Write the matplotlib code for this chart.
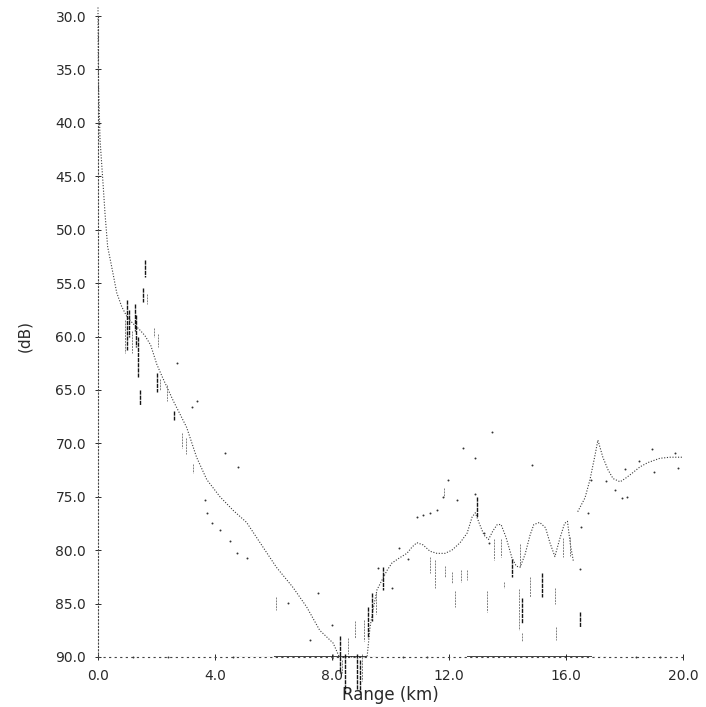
import matplotlib
matplotlib.use('Agg')
import matplotlib.pyplot as plt
from matplotlib.ticker import FormatStrFormatter

# smooth propagation-loss trace (range km, loss dB)
model_range = [0.00, 0.01, 0.02, 0.07, 0.17, 0.24, 0.33, 0.47, 0.64, 0.81,
               1.00, 1.20, 1.40, 1.60, 1.80, 2.01, 2.20, 2.57, 3.03, 3.37,
               3.72, 4.17, 4.63, 5.08, 5.54, 6.10, 6.67, 7.13, 7.58, 8.04,
               8.25, 9.20, 9.30, 9.40, 9.54, 9.71, 9.88, 10.05, 10.32, 10.56,
               10.74, 10.90, 11.11, 11.35, 11.59, 11.86, 12.10, 12.38, 12.62, 12.79,
               12.90, 13.05, 13.20, 13.35, 13.50, 13.65, 13.78, 13.95, 14.15, 14.30,
               14.43, 14.60, 14.77, 14.90, 15.10, 15.30, 15.45, 15.62, 15.78, 15.95,
               16.05, 16.15, 16.25]
model_loss = [29.2, 34.0, 36.6, 41.6, 45.6, 48.5, 51.6, 53.5, 55.9, 57.2,
              58.2, 58.8, 59.3, 59.9, 60.8, 62.6, 63.8, 66.0, 68.5, 71.3,
              73.4, 75.0, 76.3, 77.4, 79.3, 81.6, 83.5, 85.3, 87.5, 88.7,
              90.0, 90.0, 87.2, 85.6, 83.7, 82.8, 81.9, 81.2, 80.7, 80.3,
              79.7, 79.3, 79.5, 80.1, 80.3, 80.3, 80.0, 79.3, 78.4, 76.9,
              76.5, 77.6, 78.6, 79.0, 78.2, 77.6, 77.6, 78.8, 80.7, 81.5,
              81.6, 80.4, 78.6, 77.6, 77.4, 77.9, 79.3, 80.6, 79.0, 77.5,
              77.3, 79.5, 81.0]

tail_range = [16.40, 16.65, 16.82, 17.00, 17.09, 17.26, 17.44, 17.61, 17.85, 18.02,
              18.26, 18.53, 18.80, 19.21, 19.56, 19.97]
tail_loss = [76.4, 75.1, 73.4, 71.0, 69.7, 71.3, 72.5, 73.3, 73.6, 73.3,
             72.8, 72.2, 71.8, 71.4, 71.3, 71.3]

# fading spikes (range, upper and lower loss)
dark_range = [0.99, 1.05, 1.26, 1.30, 1.37, 1.44, 1.60, 1.55, 2.00, 2.60,
              8.27, 8.44, 8.85, 8.96, 9.23, 9.37, 9.74, 12.96, 14.15, 14.50,
              15.18, 16.48]
dark_top = [56.6, 57.5, 57.0, 58.0, 60.0, 65.0, 52.8, 55.5, 63.4, 67.0,
            88.0, 89.7, 89.7, 90.3, 85.3, 84.0, 81.6, 75.0, 80.8, 84.5,
            82.1, 85.8]
dark_bottom = [61.3, 60.0, 59.5, 61.0, 63.8, 66.4, 54.4, 56.8, 65.2, 67.8,
               91.5, 93.4, 93.1, 93.4, 88.2, 86.6, 83.7, 76.9, 82.5, 86.8,
               84.4, 87.2]

light_range = [0.92, 1.15, 1.68, 1.90, 2.05, 2.12, 2.35, 2.87, 3.00, 3.25,
               6.10, 8.04, 8.34, 8.55, 8.79, 9.03, 9.10, 9.50, 11.35, 11.52,
               11.83, 11.86, 12.10, 12.20, 12.40, 12.62, 13.30, 13.54, 13.78, 13.88,
               14.40, 14.43, 14.50, 14.77, 15.62, 15.66, 15.90, 16.14]
light_top = [58.5, 59.5, 56.0, 59.2, 59.8, 64.0, 64.5, 69.0, 69.5, 71.9,
             84.4, 89.7, 90.3, 88.2, 86.6, 89.7, 86.5, 84.0, 80.6, 80.9,
             74.2, 81.5, 82.0, 83.8, 81.9, 81.9, 83.8, 79.0, 79.0, 83.0,
             83.6, 79.4, 87.8, 82.5, 83.5, 87.2, 78.9, 78.8]
light_bottom = [61.5, 61.5, 57.0, 60.0, 61.0, 65.0, 66.0, 70.4, 71.0, 72.8,
                85.6, 90.3, 91.5, 89.7, 88.2, 92.2, 88.5, 86.0, 82.1, 83.5,
                75.0, 82.5, 83.1, 85.3, 83.0, 82.8, 85.8, 80.9, 80.6, 83.5,
                87.5, 81.6, 88.5, 84.4, 85.0, 88.4, 80.6, 80.5]

# isolated samples
dot_range = [2.70, 3.37, 3.20, 4.34, 4.79, 3.66, 3.72, 3.90, 4.17, 4.51,
             4.75, 5.08, 6.50, 7.52, 7.25, 8.00, 9.57, 10.05, 10.30, 10.60,
             10.90, 11.10, 11.35, 11.60, 11.80, 12.27, 12.90, 12.48, 13.47, 12.89,
             11.97, 14.84, 13.20, 13.37, 16.51, 16.75, 16.85, 16.48, 17.37, 17.68,
             17.91, 18.09, 18.02, 18.50, 18.94, 19.00, 19.73, 19.83, 10.43, 11.25,
             18.40, 19.20, 2.40, 1.20, 4.60]
dot_loss = [62.5, 66.0, 66.6, 70.9, 72.2, 75.3, 76.5, 77.5, 78.1, 79.1,
            80.3, 80.7, 84.9, 84.0, 88.4, 87.0, 81.7, 83.5, 79.8, 80.8,
            76.9, 76.7, 76.5, 76.2, 75.0, 75.3, 74.7, 70.4, 68.9, 71.4,
            73.4, 72.0, 78.4, 79.3, 77.8, 76.5, 73.4, 81.8, 73.5, 74.4,
            75.1, 75.0, 72.4, 71.7, 70.5, 72.7, 70.9, 72.3, 90.0, 90.0,
            90.0, 90.0, 90.0, 90.0, 90.0]

# stretches where the trace sits on the 90 dB floor
floor_start = [6.0, 12.6]
floor_end = [9.2, 16.9]
floor_dash_start = [4.6, 9.2, 16.9]
floor_dash_end = [6.0, 9.6, 17.4]

ink = '#2a2a2a'

fig = plt.figure(figsize=(7.06, 7.07), dpi=100)
ax = fig.add_axes([98 / 706, 50 / 707, 585 / 706, 641 / 707])

ax.plot(model_range, model_loss, color='#3a3a3a', lw=0.8, ls=(0, (1, 1.5)), clip_on=False)
ax.plot(tail_range, tail_loss, color='#3a3a3a', lw=0.8, ls=(0, (1, 1.5)), clip_on=False)
ax.vlines(dark_range, dark_top, dark_bottom, color='#151515', lw=1.0,
          ls=(0, (3, 0.7)), clip_on=False)
ax.vlines(light_range, light_top, light_bottom, color='#808080', lw=0.7,
          ls=(0, (2, 1)), clip_on=False)
ax.scatter(dot_range, dot_loss, s=2, color='#333333', lw=0, clip_on=False)
ax.hlines([90] * len(floor_start), floor_start, floor_end, color='#111111', lw=1.1)
ax.hlines([90] * len(floor_dash_start), floor_dash_start, floor_dash_end,
          color='#444444', lw=0.8, ls=(0, (3, 2)))

ax.set_xlim(0, 20)
ax.set_ylim(90, 30)
ax.set_xticks([0, 4, 8, 12, 16, 20])
ax.set_yticks([30, 35, 40, 45, 50, 55, 60, 65, 70, 75, 80, 85, 90])
ax.xaxis.set_major_formatter(FormatStrFormatter('%.1f'))
ax.yaxis.set_major_formatter(FormatStrFormatter('%.1f'))
ax.tick_params(direction='inout', length=5, width=0.7, pad=6, labelsize=10,
               colors=ink)

for side in ['top', 'right']:
    ax.spines[side].set_visible(False)
ax.spines['left'].set_linestyle((0, (1, 2)))
ax.spines['bottom'].set_linestyle((0, (1, 4)))
for side in ['left', 'bottom']:
    ax.spines[side].set_color('#444444')
    ax.spines[side].set_linewidth(0.8)

ax.set_xlabel('Range (km)', fontsize=12, color=ink)
ax.xaxis.set_label_coords(0.5, -0.045)
ax.set_ylabel('(dB)', fontsize=11, color=ink)
ax.yaxis.set_label_coords(-0.113, 0.5)

fig.savefig('out.png', dpi=100)
print('Saved: out.png')
